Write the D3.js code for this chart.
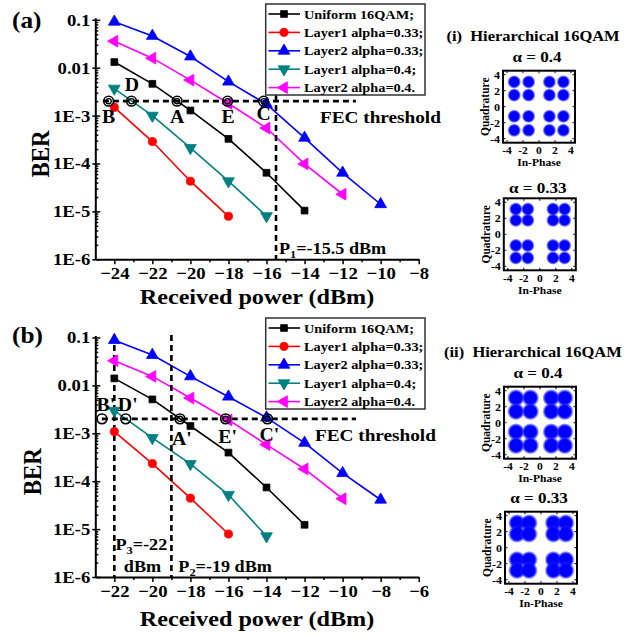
<!DOCTYPE html>
<html><head><meta charset="utf-8">
<script src="https://cdn.jsdelivr.net/npm/d3@7"></script>
<style>
body{margin:0;background:#fff}
text{font-family:"Liberation Serif","Times New Roman",serif;font-weight:bold;fill:#000;white-space:pre}
</style>
</head><body>
<svg id="c" width="643" height="637" xmlns="http://www.w3.org/2000/svg"></svg>
<script>
// ---------------- DATA ----------------
const seriesNames = ["Uniform 16QAM;", "Layer1 alpha=0.33;", "Layer2 alpha=0.33;", "Layer1 alpha=0.4;", "Layer2 alpha=0.4."];

// Panel (a)
const powerA_uniform = [-24, -22, -20, -18, -16, -14];
const berA_uniform   = [0.0131, 0.0046, 0.00128, 3.27e-4, 6.4e-5, 1.04e-5];
const powerA_L1a033  = [-24, -22, -20, -18];
const berA_L1a033    = [1.48e-3, 2.87e-4, 4.27e-5, 7.9e-6];
const powerA_L2a033  = [-24, -22, -20, -18, -16, -14, -12, -10];
const berA_L2a033    = [0.091, 0.046, 0.0171, 0.0051, 1.73e-3, 3.43e-4, 6.4e-5, 1.41e-5];
const powerA_L1a04   = [-24, -22, -20, -18, -16];
const berA_L1a04     = [3.67e-3, 1.0e-3, 2.12e-4, 4.27e-5, 8.0e-6];
const powerA_L2a04   = [-24, -22, -20, -18, -16, -14, -12];
const berA_L2a04     = [0.0358, 0.0158, 5.5e-3, 1.79e-3, 5.5e-4, 9.8e-5, 2.28e-5];

// Panel (b)
const powerB_uniform = [-22, -20, -18, -16, -14, -12];
const berB_uniform   = [0.014, 5.1e-3, 1.42e-3, 3.95e-4, 7.4e-5, 1.23e-5];
const powerB_L1a033  = [-22, -20, -18, -16];
const berB_L1a033    = [1.08e-3, 2.33e-4, 4.43e-5, 7.9e-6];
const powerB_L2a033  = [-22, -20, -18, -16, -14, -12, -10, -8];
const berB_L2a033    = [0.088, 0.043, 0.0154, 5.8e-3, 2.12e-3, 6.3e-4, 1.47e-4, 4.1e-5];
const powerB_L1a04   = [-22, -20, -18, -16, -14];
const berB_L1a04     = [2.97e-3, 8.0e-4, 2.3e-4, 5.2e-5, 7.1e-6];
const powerB_L2a04   = [-22, -20, -18, -16, -14, -12, -10];
const berB_L2a04     = [0.0327, 0.0154, 5.45e-3, 1.9e-3, 5.8e-4, 1.8e-4, 4.3e-5];

const fecThreshold = 2e-3;
const fecSpanA = [-24.6, -11.3];
const fecSpanB = [-22.66, -9.3];
const pointsA = ["B", "D", "A", "E", "C"];
const pointsAx = [-24.3, -23.1, -20.7, -18.05, -16.15];
const pointsB = ["B'", "D'", "A'", "E'", "C'"];
const pointsBx = [-22.65, -21.4, -18.55, -16.15, -13.95];
const vlineA = [-15.5];
const vlineB = [-22, -19];

const xDomainA = [-25, -8];
const xDomainB = [-23, -6];
const xTicksA = [-24, -22, -20, -18, -16, -14, -12, -10, -8];
const xTicksB = [-22, -20, -18, -16, -14, -12, -10, -8, -6];
const yTicks = [1e-6, 1e-5, 1e-4, 1e-3, 1e-2, 1e-1];
const yTickLabels = ["1E-6", "1E-5", "1E-4", "1E-3", "0.01", "0.1"];

// Constellation cluster centres (I levels, Q levels)
const constTicks = [-4, -2, 0, 2, 4];
const c1_a04_I = [-3.1, -1.3, 1.3, 3.05],  c1_a04_Q = [3.1, 1.45, -1.2, -2.95];
const c1_a033_I = [-3.0, -1.5, 1.65, 3.1], c1_a033_Q = [3.15, 1.75, -1.4, -2.95];
const c2_a04_I = [-3.0, -1.2, 1.4, 3.1],   c2_a04_Q = [3.1, 1.4, -1.15, -2.85];
const c2_a033_I = [-3.0, -1.5, 1.55, 3.1], c2_a033_Q = [3.1, 1.7, -1.5, -2.85];

// ---------------- STYLE ----------------
const SX = 1.1;
const colors = ["#000000", "#ff0000", "#0000ff", "#008080", "#ff00ff"];
const symbols = [
  {t: d3.symbolSquare, s: 46, r: 0},
  {t: d3.symbolCircle, s: 52, r: 0},
  {t: d3.symbolTriangle, s: 60, r: 0},
  {t: d3.symbolTriangle, s: 60, r: 180},
  {t: d3.symbolTriangle, s: 60, r: -90}
];

const svg = d3.select("#c");
const defs = svg.append("defs");
const grad = defs.append("radialGradient").attr("id", "blob");
grad.append("stop").attr("offset", "0%").attr("stop-color", "#0000ff").attr("stop-opacity", 1);
grad.append("stop").attr("offset", "66%").attr("stop-color", "#0000ff").attr("stop-opacity", 1);
grad.append("stop").attr("offset", "84%").attr("stop-color", "#1a1aff").attr("stop-opacity", 0.55);
grad.append("stop").attr("offset", "100%").attr("stop-color", "#5050ff").attr("stop-opacity", 0);

function txt(g, x, y, s, size, anchor, rot) {
  const t = g.append("text").attr("font-size", size).attr("text-anchor", anchor || "start")
    .attr("transform", rot ? `translate(${x},${y}) rotate(${rot}) scale(1,${SX})`
                           : `translate(${x},${y}) scale(${SX},1)`);
  if (s !== null) t.text(s);
  return t;
}

function drawPanel(cfg) {
  const oy = cfg.oy;
  const g = svg.append("g");
  const x = d3.scaleLinear().domain(cfg.xDom).range([95.3, 418.7]);
  const y = d3.scaleLog().domain([1e-6, 0.11]).range([259.3 + oy, 17.8 + oy]);

  // x axis
  const xa = g.append("g").attr("transform", `translate(0,${259.3 + oy})`)
    .call(d3.axisBottom(x).tickValues(cfg.xTicks).tickSize(5).tickSizeOuter(0).tickPadding(3).tickFormat(d3.format("d")));
  xa.selectAll("text").attr("font-size", 17).attr("fill", "#000")
    .attr("transform", `scale(${SX},1)`).attr("font-family", null);
  const minorX = d3.range(cfg.xDom[0] + 2, cfg.xDom[1], 2);
  g.append("g").attr("transform", `translate(0,${259.3 + oy})`)
    .call(d3.axisBottom(x).tickValues(minorX).tickSize(3).tickFormat("").tickSizeOuter(0))
    .call(s => s.select(".domain").remove());

  // y axis
  const ya = g.append("g").attr("transform", "translate(95.3,0)")
    .call(d3.axisLeft(y).tickValues(yTicks).tickSize(3).tickSizeOuter(0).tickPadding(2)
      .tickFormat((d, i) => yTickLabels[i]));
  ya.selectAll("text").attr("font-size", 17).attr("fill", "#000")
    .attr("x", -5 / SX).attr("transform", `scale(${SX},1)`).attr("font-family", null);
  const minorY = [];
  for (let e = -6; e < -1; e++) for (let m = 2; m <= 9; m++) minorY.push(m * Math.pow(10, e));
  g.append("g").attr("transform", "translate(95.3,0)")
    .call(d3.axisRight(y).tickValues(minorY).tickSize(3).tickFormat("").tickSizeOuter(0))
    .call(s => s.select(".domain").remove());
  g.append("g").attr("transform", "translate(95.3,0)")
    .call(d3.axisRight(y).tickValues(yTicks).tickSize(5).tickFormat("").tickSizeOuter(0))
    .call(s => s.select(".domain").remove());
  g.selectAll(".domain").attr("stroke-width", 2);
  g.selectAll(".tick line").attr("stroke-width", 1.5);

  // series
  const line = d3.line().x(d => x(d[0])).y(d => y(d[1]));
  cfg.series.forEach((s, i) => {
    const pts = s.p.map((p, k) => [p, s.b[k]]);
    g.append("path").attr("d", line(pts)).attr("fill", "none").attr("stroke", colors[i]).attr("stroke-width", 1.6);
  });

  // dashed lines
  g.append("line").attr("x1", x(cfg.fecSpan[0])).attr("x2", x(cfg.fecSpan[1]))
    .attr("y1", y(fecThreshold)).attr("y2", y(fecThreshold))
    .attr("stroke", "#000").attr("stroke-width", 2.6).attr("stroke-dasharray", "6,4");
  cfg.vlines.forEach(v => {
    g.append("line").attr("x1", x(v)).attr("x2", x(v)).attr("y1", cfg.vTop).attr("y2", 259.3 + oy)
      .attr("stroke", "#000").attr("stroke-width", 2.6).attr("stroke-dasharray", "6,4");
  });

  // markers
  cfg.series.forEach((s, i) => {
    const sym = d3.symbol().type(symbols[i].t).size(symbols[i].s);
    s.p.forEach((p, k) => {
      g.append("path").attr("d", sym())
        .attr("transform", `translate(${x(p)},${y(s.b[k])}) rotate(${symbols[i].r})`)
        .attr("fill", colors[i]).attr("stroke", colors[i]).attr("stroke-width", 0.8);
    });
  });

  // FEC crossing circles
  cfg.pts.forEach((px, k) => {
    const cx = x(px), cy = y(fecThreshold);
    g.append("circle").attr("cx", cx).attr("cy", cy).attr("r", 4.9)
      .attr("fill", "none").attr("stroke", "#000").attr("stroke-width", 1.6);
    if (cfg.doubleRing[k]) g.append("circle").attr("cx", cx).attr("cy", cy).attr("r", 2.6)
      .attr("fill", "none").attr("stroke", "#000").attr("stroke-width", 1.3);
    const lp = cfg.ptLabelPos[k];
    txt(g, cx + lp[0], cy + lp[1], cfg.ptNames[k], 18, "middle");
  });

  // legend
  const L = g.append("g");
  L.append("rect").attr("x", 265.7).attr("y", cfg.legY).attr("width", 159.3).attr("height", 91)
    .attr("fill", "#fff").attr("stroke", "#333").attr("stroke-width", 1.5);
  seriesNames.forEach((n, i) => {
    const ry = cfg.legY + 10 + i * 18.4;
    L.append("line").attr("x1", 268.5).attr("x2", 300).attr("y1", ry).attr("y2", ry)
      .attr("stroke", colors[i]).attr("stroke-width", 1.6);
    const sym = d3.symbol().type(symbols[i].t).size(symbols[i].s);
    L.append("path").attr("d", sym()).attr("transform", `translate(284,${ry}) rotate(${symbols[i].r})`)
      .attr("fill", colors[i]).attr("stroke", colors[i]).attr("stroke-width", 0.8);
    txt(L, 304, ry + 4.6, n, 13, "start");
  });

  // titles
  txt(g, 257, cfg.xTitleY, "Received power (dBm)", 22, "middle");
  txt(g, cfg.berX, cfg.berY, "BER", 23, "middle", -90);
  txt(g, 12, cfg.tagY, cfg.tag, 23, "start");
  txt(g, cfg.fecLabel[0], cfg.fecLabel[1], "FEC threshold", 17.5, "start");
  return {g, x, y};
}

function pLabel(g, x, y, main, sub, rest, size) {
  const t = txt(g, x, y, null, size, "start");
  t.append("tspan").text(main);
  t.append("tspan").text(sub).attr("font-size", size * 0.68).attr("dy", 4);
  t.append("tspan").text(rest).attr("dy", -4);
}

const mk = (p, b) => ({p, b});
const A = drawPanel({
  oy: 0, xDom: xDomainA, xTicks: xTicksA,
  series: [mk(powerA_uniform, berA_uniform), mk(powerA_L1a033, berA_L1a033), mk(powerA_L2a033, berA_L2a033),
           mk(powerA_L1a04, berA_L1a04), mk(powerA_L2a04, berA_L2a04)],
  fecSpan: fecSpanA, vlines: vlineA, vTop: 95,
  pts: pointsAx, ptNames: pointsA, doubleRing: [1, 1, 1, 1, 1],
  ptLabelPos: [[0, 22], [0.5, -10], [0, 22], [0.5, 22], [0, 19]],
  legY: 4, xTitleY: 304, berX: 49, berY: 154, tag: "(a)", tagY: 28, fecLabel: [320, 122.5]
});
pLabel(A.g, 279, 253.5, "P", "1", "=-15.5 dBm", 16.5);

const B = drawPanel({
  oy: 317.7, xDom: xDomainB, xTicks: xTicksB,
  series: [mk(powerB_uniform, berB_uniform), mk(powerB_L1a033, berB_L1a033), mk(powerB_L2a033, berB_L2a033),
           mk(powerB_L1a04, berB_L1a04), mk(powerB_L2a04, berB_L2a04)],
  fecSpan: fecSpanB, vlines: vlineB, vTop: 335,
  pts: pointsBx, ptNames: pointsB, doubleRing: [0, 0, 1, 1, 1],
  ptLabelPos: [[4, -8], [2, -8], [2, 26], [2, 24], [2, 22]],
  legY: 318, xTitleY: 626, berX: 41, berY: 471.7, tag: "(b)", tagY: 343, fecLabel: [315, 440.5]
});
pLabel(B.g, 115.5, 550, "P", "3", "=-22", 16.5);
txt(B.g, 142.5, 571.7, "dBm", 16.5, "middle");
pLabel(B.g, 178.3, 571.7, "P", "2", "=-19 dBm", 16.5);

// ---------------- CONSTELLATIONS ----------------
function constellation(left, top, I, Q, r, alphaText, alphaY, titleText, titleY) {
  const g = svg.append("g");
  const size = 72;
  const cx = d3.scaleLinear().domain([-4.5, 4.5]).range([left, left + size]);
  const cy = d3.scaleLinear().domain([-4.5, 4.5]).range([top + size, top]);
  const pts = [];
  I.forEach(i => Q.forEach(q => pts.push([i, q])));
  const clip = "clip" + Math.round(left) + "_" + Math.round(top);
  defs.append("clipPath").attr("id", clip).append("rect").attr("x", left).attr("y", top).attr("width", size).attr("height", size);
  g.append("g").attr("clip-path", `url(#${clip})`).selectAll("circle").data(pts).join("circle")
    .attr("cx", d => cx(d[0])).attr("cy", d => cy(d[1])).attr("r", r).attr("fill", "url(#blob)");
  g.append("rect").attr("x", left).attr("y", top).attr("width", size).attr("height", size)
    .attr("fill", "none").attr("stroke", "#000").attr("stroke-width", 2);
  constTicks.forEach(t => {
    g.append("line").attr("x1", cx(t)).attr("x2", cx(t)).attr("y1", top + size).attr("y2", top + size - 2.5).attr("stroke", "#000");
    g.append("line").attr("x1", cx(t)).attr("x2", cx(t)).attr("y1", top).attr("y2", top + 2.5).attr("stroke", "#000");
    g.append("line").attr("y1", cy(t)).attr("y2", cy(t)).attr("x1", left).attr("x2", left + 2.5).attr("stroke", "#000");
    g.append("line").attr("y1", cy(t)).attr("y2", cy(t)).attr("x1", left + size).attr("x2", left + size - 2.5).attr("stroke", "#000");
    txt(g, left - 3, cy(t) + 4, String(t), 11, "end");
    txt(g, cx(t), top + size + 11.5, String(t), 10.5, "middle");
  });
  txt(g, left + size / 2, top + size + 23.5, "In-Phase", 10.5, "middle");
  txt(g, left - 14, top + size / 2, "Quadrature", 11.5, "middle", -90);
  txt(g, left + size / 2 - 2, alphaY, alphaText, 15.5, "middle");
  if (titleText) txt(g, titleText[1], titleY, titleText[0], 15, "start");
}

constellation(503, 70.7, c1_a04_I, c1_a04_Q, 7.0, "α = 0.4", 61.7, ["(i)  Hierarchical 16QAM", 446.5], 40.5);
constellation(503.8, 198.3, c1_a033_I, c1_a033_Q, 7.0, "α = 0.33", 192.7, null, 0);
constellation(504, 386.7, c2_a04_I, c2_a04_Q, 9, "α = 0.4", 378.3, ["(ii)  Hierarchical 16QAM", 444], 357);
constellation(505, 511.7, c2_a033_I, c2_a033_Q, 9, "α = 0.33", 503.3, null, 0);
</script>
</body></html>
